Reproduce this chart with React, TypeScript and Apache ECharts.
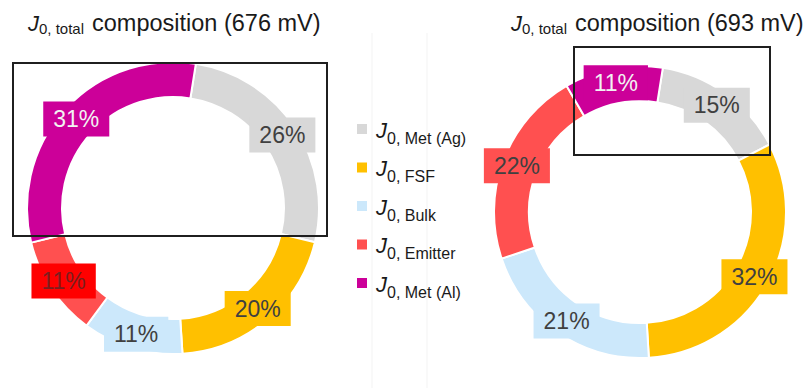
import React, { useEffect, useRef } from "react";
import * as echarts from "echarts";

// J0 components, clockwise from the top of each ring
const categories = ["Met (Ag)", "FSF", "Bulk", "Emitter", "Met (Al)"];
const sliceColors = ["#D8D8D8", "#FFC000", "#CCE8FB", "#FF5050", "#CC0099"];
const values676 = [26, 20, 11, 11, 31];
const values693 = [15, 32, 21, 22, 11];
const titles = ["composition (676 mV)", "composition (693 mV)"];

// label boxes: background / text colour per slice
const labelBg676 = ["#D8D8D8", "#FFC000", "#CCE8FB", "#FF0000", "#CC0099"];
const labelText676 = ["#404040", "#404040", "#404040", "#7A1F1F", "#F2F2F2"];
const labelBg693 = ["#D8D8D8", "#FFC000", "#CCE8FB", "#FF5050", "#CC0099"];
const labelText693 = ["#404040", "#404040", "#404040", "#404040", "#F2F2F2"];

const FONT = "'Liberation Sans', Arial, sans-serif";

function ringSeries(
  values: number[],
  center: [number, number],
  bg: string[],
  fg: string[]
) {
  return {
    type: "pie",
    center,
    radius: [111, 146],
    startAngle: 81,
    clockwise: true,
    silent: true,
    avoidLabelOverlap: false,
    itemStyle: { borderColor: "#ffffff", borderWidth: 2 },
    labelLine: { show: false },
    label: {
      show: true,
      position: "inside",
      fontFamily: FONT,
      fontSize: 23,
      lineHeight: 23,
      padding: [6, 10, 6, 10],
      formatter: (p: any) => `${p.value}%`,
    },
    data: values.map((v, i) => ({
      name: categories[i],
      value: v,
      itemStyle: { color: sliceColors[i] },
      label: { backgroundColor: bg[i], color: fg[i] },
    })),
  };
}

function titleGroup(x: number, text: string) {
  return [
    {
      type: "text",
      x,
      y: 23,
      z: 50,
      style: {
        text: "J",
        font: `italic 22px ${FONT}`,
        fill: "#1a1a1a",
        verticalAlign: "middle",
      },
    },
    {
      type: "text",
      x: x + 11,
      y: 28,
      z: 50,
      style: {
        text: "0, total",
        font: `15px ${FONT}`,
        fill: "#1a1a1a",
        verticalAlign: "middle",
      },
    },
    {
      type: "text",
      x: x + 64,
      y: 23,
      z: 50,
      style: {
        text,
        font: `23.5px ${FONT}`,
        fill: "#1a1a1a",
        verticalAlign: "middle",
      },
    },
  ];
}

function legendGraphic() {
  const items: any[] = [];
  categories.forEach((name, i) => {
    const cy = 129 + i * 38.5;
    items.push({
      type: "rect",
      shape: { x: 357, y: cy - 5, width: 10, height: 10 },
      style: { fill: sliceColors[i] },
      z: 50,
    });
    items.push({
      type: "text",
      x: 376,
      y: cy + 1,
      z: 50,
      style: {
        text: "J",
        font: `italic 22px ${FONT}`,
        fill: "#1a1a1a",
        verticalAlign: "middle",
      },
    });
    items.push({
      type: "text",
      x: 387,
      y: cy + 9,
      z: 50,
      style: {
        text: `0, ${name}`,
        font: `16px ${FONT}`,
        fill: "#1a1a1a",
        verticalAlign: "middle",
      },
    });
  });
  return items;
}

export default function App() {
  const ref = useRef<HTMLDivElement>(null);

  useEffect(() => {
    if (!ref.current) return;
    const chart = echarts.init(ref.current, undefined, { renderer: "svg" });
    chart.setOption({
      animation: false,
      backgroundColor: "#ffffff",
      series: [
        ringSeries(values676, [173, 208], labelBg676, labelText676),
        ringSeries(values693, [640, 212], labelBg693, labelText693),
      ],
      graphic: [
        // faint slide guides
        {
          type: "line",
          shape: { x1: 372, y1: 33, x2: 372, y2: 388 },
          style: { stroke: "#F3F3F3", lineWidth: 1 },
          z: 0,
        },
        {
          type: "line",
          shape: { x1: 427, y1: 33, x2: 427, y2: 388 },
          style: { stroke: "#F3F3F3", lineWidth: 1 },
          z: 0,
        },
        ...titleGroup(28, titles[0]),
        ...titleGroup(511, titles[1]),
        ...legendGraphic(),
        // highlight frames over the metal-contact slices
        {
          type: "rect",
          shape: { x: 13, y: 63, width: 314, height: 173 },
          style: { fill: "none", stroke: "#1f1f1f", lineWidth: 2 },
          z: 100,
        },
        {
          type: "rect",
          shape: { x: 574, y: 47, width: 196, height: 108 },
          style: { fill: "none", stroke: "#1f1f1f", lineWidth: 2 },
          z: 100,
        },
      ],
    });
    return () => chart.dispose();
  }, []);

  return (
    <div
      ref={ref}
      style={{ position: "fixed", left: 0, top: 0, width: 807, height: 388 }}
    />
  );
}
